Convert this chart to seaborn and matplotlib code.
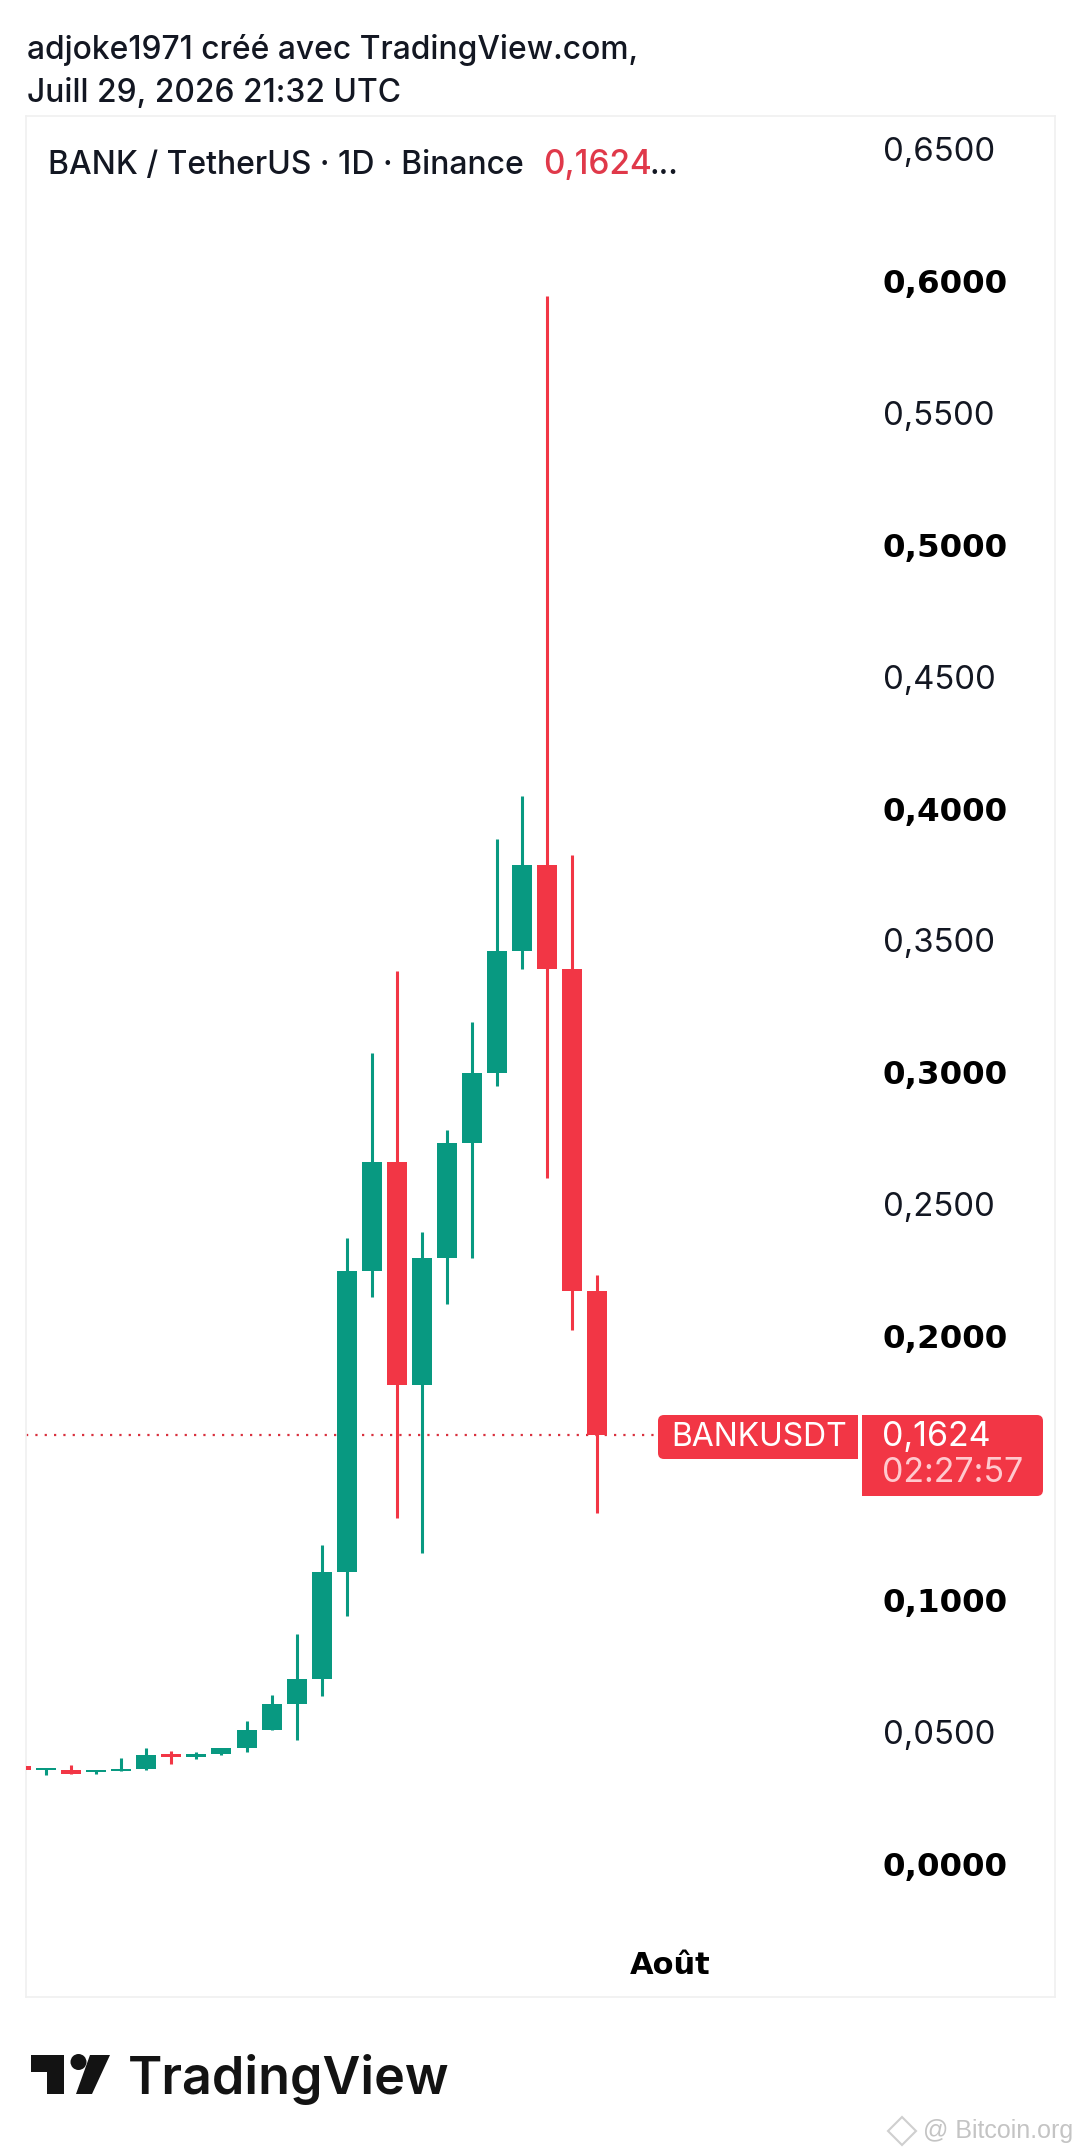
import numpy as np
import pandas as pd
import matplotlib
matplotlib.use('Agg')
import matplotlib.pyplot as plt
from matplotlib.patches import FancyBboxPatch, Polygon, Rectangle, Circle
from matplotlib.transforms import IdentityTransform
import seaborn as sns

# Daily candles
day = list(range(24))
opens = [.0372, .0354, .0354, .0346, .0350, .0360, .0417, .0403, .0417, .0437, .0508, .0606,
         .0700, .1106, .2248, .2660, .1815, .2295, .2733, .2999, .3459, .3787, .3391, .2170]
closes = [.0354, .0363, .0342, .0354, .0361, .0411, .0406, .0417, .0437, .0507, .0606, .0700,
          .1106, .2248, .2660, .1815, .2295, .2733, .2999, .3459, .3787, .3391, .2170, .1624]
highs = [.0372, .0363, .0376, .0354, .0400, .0437, .0428, .0424, .0437, .0541, .0640, .0871,
         .1210, .2373, .3073, .3385, .2394, .2780, .3192, .3886, .4048, .5941, .3824, .2233]
lows = [.0354, .0336, .0339, .0341, .0350, .0356, .0378, .0397, .0413, .0423, .0508, .0469,
        .0636, .0939, .2149, .1309, .1179, .2123, .2295, .2947, .3391, .2598, .2024, .1330]
# 0,1500 is hidden behind the price tag in the original
price_ticks = [0.0, 0.05, 0.1, 0.2, 0.25, 0.3, 0.35, 0.4, 0.45, 0.5, 0.55, 0.6, 0.65]
bold_ticks = [0.0, 0.1, 0.2, 0.3, 0.4, 0.5, 0.6]
last_price = 0.1624
month_pos = [25.93]
month_labels = ['Août']

W, H = 1080, 2155
GREEN = '#089981'
RED = '#F23645'
INK = '#131722'

sns.set_theme(style='white')
plt.rcParams['font.family'] = ['Inter', 'DejaVu Sans']

df = pd.DataFrame({'day': day, 'open': opens, 'close': closes, 'high': highs, 'low': lows})
df['body'] = (df['close'] - df['open']).abs()
df['base'] = df[['open', 'close']].min(axis=1)
df['up'] = df['close'] >= df['open']

fig = plt.figure(figsize=(W / 100, H / 100), dpi=100, facecolor='white')
# frame runs from x 26 to 1055 and y 116 to 1997 in pixels
ax = fig.add_axes([26 / W, 1 - 1997 / H, (1055 - 26) / W, (1997 - 116) / H])

for is_up, color in [(True, GREEN), (False, RED)]:
    sub = df[df['up'] == is_up]
    ax.vlines(sub['day'], sub['low'], sub['high'], color=color, linewidth=2.2, zorder=2)
    sns.barplot(x=sub['day'].values, y=sub['body'].values, bottom=sub['base'].values,
                native_scale=True, width=0.8, errorbar=None, color=color, saturation=1,
                linewidth=0, ax=ax, zorder=3)

ax.axhline(last_price, xmax=(658 - 26) / (1055 - 26), color='#d9303e', linewidth=1.6,
           linestyle=(0, (1, 3.2)), zorder=1)

ax.set_xlim(0.19, 41.30)
ax.set_ylim(-0.0505, 0.6625)
ax.set_xlabel('')
ax.set_ylabel('')
ax.yaxis.tick_right()
ax.set_yticks(price_ticks)
ax.set_yticklabels([f'{v:.4f}'.replace('.', ',') for v in price_ticks])
ax.set_xticks(month_pos)
ax.set_xticklabels(month_labels, fontsize=22, fontweight='bold', family='DejaVu Sans', color='black')
ax.tick_params(axis='y', length=0, pad=-124, labelsize=23.7, labelcolor=INK)
ax.tick_params(axis='x', length=0, pad=-33)
for lab, v in zip(ax.get_yticklabels(), price_ticks):
    if v in bold_ticks:
        lab.set_fontfamily('DejaVu Sans')
        lab.set_fontweight('bold')
        lab.set_fontsize(23.4)
        lab.set_color('black')
for s in ax.spines.values():
    s.set_color('#f0f0f0')
    s.set_linewidth(1.2)


def px_text(x, y, s, **kw):
    kw.setdefault('va', 'center')
    kw.setdefault('color', INK)
    fig.text(x / W, 1 - y / H, s, **kw)


def px_patch(p):
    p.set_transform(IdentityTransform())
    fig.add_artist(p)


# header
px_text(27, 50, 'adjoke1971 créé avec TradingView.com,', fontsize=22.9, fontweight='medium')
px_text(27, 94, 'Juill 29, 2026 21:32 UTC', fontsize=22.9, fontweight='medium')
px_text(48, 165, 'BANK / TetherUS · 1D · Binance', fontsize=23, fontweight='medium')
px_text(543, 165, f'{last_price:.4f}'.replace('.', ','), fontsize=24, color='#e0394a', fontweight='medium')
px_text(649, 165, '...', fontsize=23, fontweight='medium')

# price tags
px_patch(FancyBboxPatch((662, H - 1455), 192, 36, boxstyle='round,pad=4,rounding_size=6',
                        facecolor=RED, edgecolor='none'))
px_patch(Rectangle((830, H - 1459), 28, 44, facecolor=RED, edgecolor='none'))
px_patch(FancyBboxPatch((866, H - 1492), 173, 73, boxstyle='round,pad=4,rounding_size=6',
                        facecolor=RED, edgecolor='none'))
px_patch(Rectangle((862, H - 1496), 30, 81, facecolor=RED, edgecolor='none'))
px_text(671, 1438, 'BANKUSDT', fontsize=23, color='white')
px_text(882, 1437, f'{last_price:.4f}'.replace('.', ','), fontsize=24.5, color='white')
px_text(882, 1473, '02:27:57', fontsize=24.5, color='#ffc9ce')

# logo
LOGO = '#131313'
px_patch(Polygon([(31, H - 2055), (64, H - 2055), (64, H - 2094), (47, H - 2094), (47, H - 2072), (31, H - 2072)],
                 closed=True, facecolor=LOGO, edgecolor='none'))
px_patch(Circle((78.5, H - 2062), 8, facecolor=LOGO, edgecolor='none'))
px_patch(Polygon([(90, H - 2055), (110, H - 2055), (92, H - 2094), (76, H - 2094)],
                 closed=True, facecolor=LOGO, edgecolor='none'))
px_text(128, 2094, 'TradingView', fontsize=37.5, fontweight='semibold', color=LOGO,
        va='baseline')

# watermark
px_patch(Polygon([(902, H - 2117), (916, H - 2131), (902, H - 2145), (888, H - 2131)],
                 closed=True, facecolor='none', edgecolor='#cfcfcf', linewidth=1.5))
px_text(923, 2131, '@ Bitcoin.org', fontsize=18, color='#c4c4c4',
        family=['Liberation Sans'])

fig.savefig('out.png', dpi=100)
